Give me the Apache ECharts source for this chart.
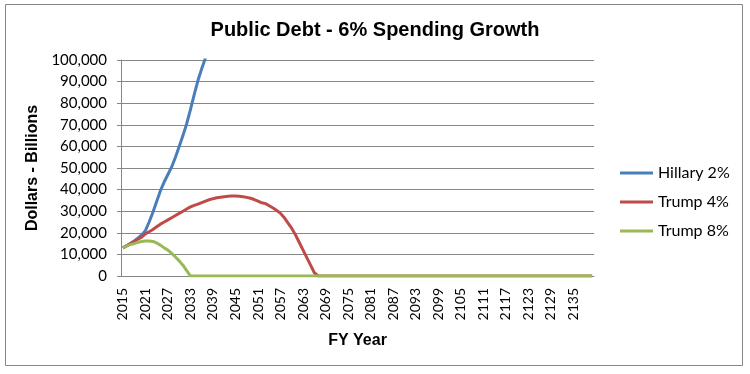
<!DOCTYPE html>
<html><head><meta charset="utf-8">
<script src="https://cdn.jsdelivr.net/npm/echarts@6/dist/echarts.min.js"></script>
<style>html,body{margin:0;padding:0;background:#fff}#c{width:750px;height:374px}</style>
</head><body><div id="c"></div>
<script>
const years = [];
for (let y = 2015; y <= 2140; y++) years.push(String(y));

const hillary = [13000,14000,15000,16200,17500,19000,21000,25000,29500,34500,
  39500,43500,47000,50500,55000,60000,65000,70500,77000,84000,
  90500,96000,101000,108000,116000,124000];
const trump4 = [13000,14000,15000,16000,17000,18000,19500,20500,21500,22800,
  24000,25000,26000,27000,28000,29000,30000,31000,32000,32700,
  33300,34000,34700,35300,35800,36200,36500,36700,36900,37000,
  37000,36900,36700,36400,36000,35400,34700,33900,33500,32500,
  31500,30300,29000,27000,24500,22000,19000,15500,12000,8500,
  5000,1500];
const trump8 = [13000,13800,14500,15000,15600,16000,16200,16200,16000,15300,
  14300,13000,12000,10500,8800,7000,5000,2500,0];

function pad(arr){ const out = arr.slice(); while(out.length < years.length) out.push(0); return out; }
const hillaryFull = hillary.slice();
const trump4Full = pad(trump4);
const trump8Full = pad(trump8);

const chart = echarts.init(document.getElementById('c'));
const lbl = "Lato, 'Open Sans', sans-serif";
chart.setOption({
  animation:false,
  graphic:[{type:'rect',shape:{x:5.5,y:4.5,width:737,height:361},style:{fill:'none',stroke:'#868686',lineWidth:1}}],
  title:{text:'Public Debt - 6% Spending Growth',left:'center',top:15,
    textStyle:{fontFamily:'Liberation Sans, Arial',fontWeight:'bold',fontSize:20,color:'#000'}},
  grid:{left:121,right:156,top:60,bottom:98},
  legend:{orient:'vertical',left:615,top:160,itemWidth:33,itemHeight:3,itemGap:13,icon:'rect',
    textStyle:{fontFamily:lbl,fontSize:16,color:'#000'},
    data:['Hillary 2%','Trump 4%','Trump 8%']},
  xAxis:{type:'category',data:years,boundaryGap:true,
    name:'FY Year',nameLocation:'middle',nameGap:57,
    nameTextStyle:{fontFamily:'Liberation Sans, Arial',fontWeight:'bold',fontSize:16,color:'#000'},
    axisLine:{lineStyle:{color:'#868686'}},
    axisTick:{interval:0,length:4,lineStyle:{color:'#868686'}},
    axisLabel:{interval:5,rotate:90,fontFamily:lbl,fontSize:14,color:'#000',margin:12}},
  yAxis:{type:'value',min:0,max:100000,interval:10000,
    name:'Dollars - Billions',nameLocation:'middle',nameGap:75,nameRotate:90,
    nameTextStyle:{fontFamily:'Liberation Sans, Arial',fontWeight:'bold',fontSize:16,color:'#000'},
    axisLine:{show:true,lineStyle:{color:'#868686'}},
    axisTick:{show:true,length:4,lineStyle:{color:'#868686'}},
    splitLine:{lineStyle:{color:'#868686'}},
    axisLabel:{fontFamily:lbl,fontSize:15,color:'#000',margin:14,
      formatter:v=>v.toLocaleString('en-US')}},
  series:[
    {name:'Hillary 2%',type:'line',data:hillaryFull,showSymbol:false,clip:true,
      lineStyle:{width:3,color:'#4a7ebb'},itemStyle:{color:'#4a7ebb'},z:3},
    {name:'Trump 4%',type:'line',data:trump4Full,showSymbol:false,clip:true,
      lineStyle:{width:3,color:'#be4b48'},itemStyle:{color:'#be4b48'},z:4},
    {name:'Trump 8%',type:'line',data:trump8Full,showSymbol:false,clip:true,
      lineStyle:{width:3,color:'#98b954'},itemStyle:{color:'#98b954'},z:5}
  ]
});
</script></body></html>
